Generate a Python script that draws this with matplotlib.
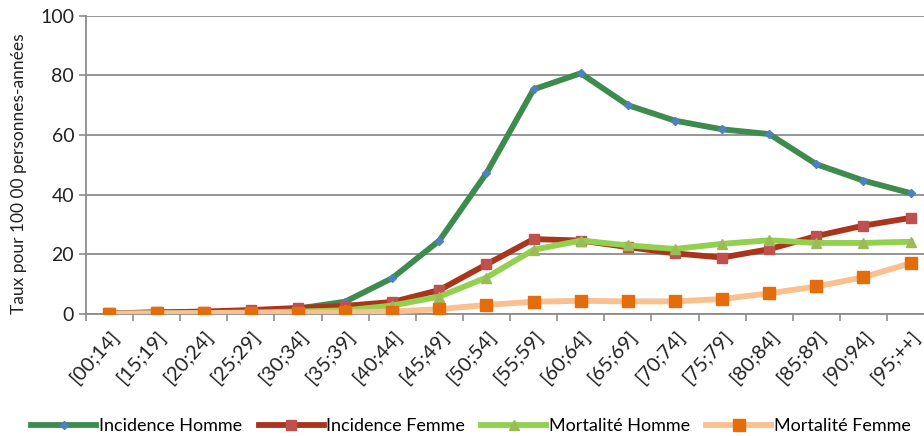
import numpy as np
import matplotlib

matplotlib.use("Agg")
import matplotlib.pyplot as plt

plt.rcParams["font.family"] = ["Lato", "DejaVu Sans"]

age_groups = ["[00;14]", "[15;19]", "[20;24]", "[25;29]", "[30;34]", "[35;39]",
              "[40;44]", "[45;49]", "[50;54]", "[55;59]", "[60;64]", "[65;69]",
              "[70;74]", "[75;79]", "[80;84]", "[85;89]", "[90;94]", "[95;++]"]

incidence_homme = [0.2, 0.5, 0.6, 1.0, 1.8, 4.1, 12.0, 24.6, 47.2, 75.3, 80.7,
                   70.0, 64.8, 61.9, 60.3, 50.2, 44.7, 40.5]
incidence_femme = [0.2, 0.5, 0.8, 1.3, 2.0, 2.7, 4.0, 8.0, 16.6, 25.1, 24.6,
                   22.4, 20.3, 18.9, 21.7, 26.1, 29.6, 32.2]
mortalite_homme = [0.1, 0.2, 0.3, 0.5, 0.8, 1.2, 2.8, 5.8, 12.2, 21.5, 24.6,
                   23.0, 21.8, 23.5, 24.7, 23.8, 23.8, 24.2]
mortalite_femme = [0.1, 0.2, 0.3, 0.3, 0.4, 0.5, 0.8, 1.6, 3.0, 4.1, 4.4,
                   4.2, 4.2, 5.0, 6.9, 9.2, 12.3, 17.0]

series = [
    ("Incidence Homme", incidence_homme, "#3d8b4f", "D", "#4f81bd", 4.5),
    ("Incidence Femme", incidence_femme, "#a8351c", "s", "#c0504d", 7),
    ("Mortalité Homme", mortalite_homme, "#92d050", "^", "#9bbb59", 7),
    ("Mortalité Femme", mortalite_femme, "#fac090", "s", "#e46c0a", 8),
]

fig = plt.figure(figsize=(9.24, 4.36), dpi=100)
ax = fig.add_axes([0.093, 0.280, 0.918, 0.684])

x = np.arange(len(age_groups))
for label, vals, lc, mk, mc, ms in series:
    ax.plot(x, vals, color=lc, lw=4.2, marker=mk, markersize=ms,
            markerfacecolor=mc, markeredgecolor=mc, label=label,
            solid_joinstyle="round", zorder=3)

ax.set_xlim(-0.5, len(age_groups) - 0.5)
ax.set_ylim(0, 100)
ax.set_yticks(range(0, 101, 20))
ax.grid(axis="y", color="#8c8c8c", lw=1.3)
ax.set_axisbelow(True)

ax.set_xticks(x)
ax.set_xticklabels(age_groups, rotation=48, ha="right", rotation_mode="anchor",
                   fontsize=14.5, color="#222222")
ax.tick_params(axis="x", length=0, pad=10)
ax.set_xticks(np.arange(-0.5, len(age_groups)), minor=True)
ax.tick_params(axis="x", which="minor", length=5, color="#8c8c8c", width=1.2)
ax.tick_params(axis="y", length=5, color="#8c8c8c", width=1.2, labelsize=14,
               labelcolor="#222222")

for side in ["top", "right"]:
    ax.spines[side].set_visible(False)
for side in ["left", "bottom"]:
    ax.spines[side].set_color("#8c8c8c")
    ax.spines[side].set_linewidth(1.3)

ax.set_ylabel("Taux pour 100 00 personnes-années", fontsize=12.5, color="#222222")
ax.yaxis.set_label_coords(-0.069, 0.47)

fig.legend(loc="center", bbox_to_anchor=(0.51, 0.022), ncol=4, frameon=False,
           fontsize=13, handlelength=3.6, handletextpad=0.15, columnspacing=0.9)

fig.savefig("out.png", dpi=100)
